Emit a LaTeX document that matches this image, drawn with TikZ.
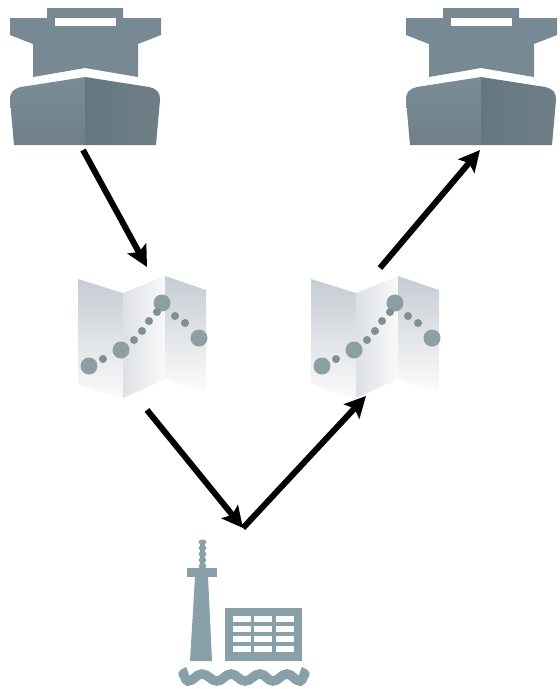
\documentclass[tikz,border=0pt]{standalone}
\usetikzlibrary{arrows.meta}
\definecolor{hullL}{HTML}{7A8D96}
\definecolor{hullD}{HTML}{64777F}
\definecolor{cabin}{HTML}{778A94}
\definecolor{dotc}{HTML}{8CA0A4}
\definecolor{portc}{HTML}{88A0A8}
\definecolor{sheet}{HTML}{C6CCD3}
\tikzset{
    route/.style={draw=black, line width=6pt, -{Stealth[length=21pt,width=21pt,inset=4pt]}},
    dotbig/.style={fill=dotc, draw=none},
    dotsmall/.style={fill=dotc!90!black, draw=none},
    pics/ship/.style={code={
        \fill[cabin] (47,8) -- (123,8) -- (123,18) -- (161,18) -- (161,35) -- (138,44) -- (138,77)
            -- (85,68) -- (33,77) -- (33,44) -- (10,35) -- (10,18) -- (47,18) -- cycle;
        \fill[white] (55,18) rectangle (116,26);
        \shade[top color=hullL, bottom color=hullL!90!black] (85,77) -- (85,145) -- (14,145) -- (10,100)
            .. controls (10,92) and (13,89) .. (21,87) -- cycle;
        \shade[left color=hullD, right color=hullL!90!black] (85,77) -- (149,87)
            .. controls (157,89) and (160,92) .. (160,100) -- (156,145) -- (85,145) -- cycle;
    }},
    pics/routemap/.style={code={
        \shade[top color=sheet, bottom color=sheet!10] (78,279) -- (123,293) -- (123,398) -- (78,384) -- cycle;
        \shade[left color=sheet!60, right color=sheet!12] (123,293) -- (165,276) -- (165,379) -- (123,398) -- cycle;
        \shade[top color=sheet, bottom color=sheet!5] (165,276) -- (206,290) -- (206,393) -- (165,379) -- cycle;
        \foreach \dx/\dy in {89/366, 121/350, 162/303, 199/338}
            \fill[dotbig] (\dx,\dy) circle (8.5);
        \foreach \dx/\dy in {103/359, 134/340, 142/331, 149/321, 157/312, 175/316, 185/323}
            \fill[dotsmall] (\dx,\dy) circle (4);
    }},
}
\begin{document}
\begin{tikzpicture}[x=1pt, y=-1pt]
    \useasboundingbox (0,0) rectangle (560,689);

    % ships and maps
    \pic (shipa) at (0,0) {ship};
    \pic (shipb) at (396,0) {ship};
    \pic (mapa) at (0,0) {routemap};
    \pic (mapb) at (233,0) {routemap};

    % port: tower, office, water
    \fill[portc] (200,540) rectangle (205,568);
    \foreach \by in {542,548,554,560,566}
        \fill[portc] (202.5,\by) ellipse (4 and 2.5);
    \fill[portc] (187,568) rectangle (217,577);
    \fill[portc] (195,577) -- (208,577) -- (212,661) -- (190,661) -- cycle;
    \fill[portc] (225,608) rectangle (302,661);
    \foreach \wx in {233,254,276}
        \foreach \wy in {616,626,636,646}
            \fill[white] (\wx,\wy) rectangle ++(17.5,6);
    \draw[portc, line width=9.5pt, line cap=round] (183,674) to[out=80,in=180] (188,681) to[out=0,in=180] (202,674)
        to[out=0,in=180] (217,681) to[out=0,in=180] (231,674) to[out=0,in=180] (245,681)
        to[out=0,in=180] (260,674) to[out=0,in=180] (273,681) to[out=0,in=180] (287,674)
        to[out=0,in=180] (300,681) to[out=0,in=100] (305,674);

    \coordinate (shipaout) at (83,150);
    \coordinate (mapain) at (147,267);
    \coordinate (mapaout) at (147,410);
    \coordinate (port) at (243,528);
    \coordinate (mapbin) at (366,396);
    \coordinate (mapbout) at (380,268);
    \coordinate (shipbin) at (480,150);

    \draw[route] (shipaout) to (mapain);
    \draw[route] (mapaout) to (port);
    \draw[route] (port) to (mapbin);
    \draw[route] (mapbout) to (shipbin);
\end{tikzpicture}
\end{document}
